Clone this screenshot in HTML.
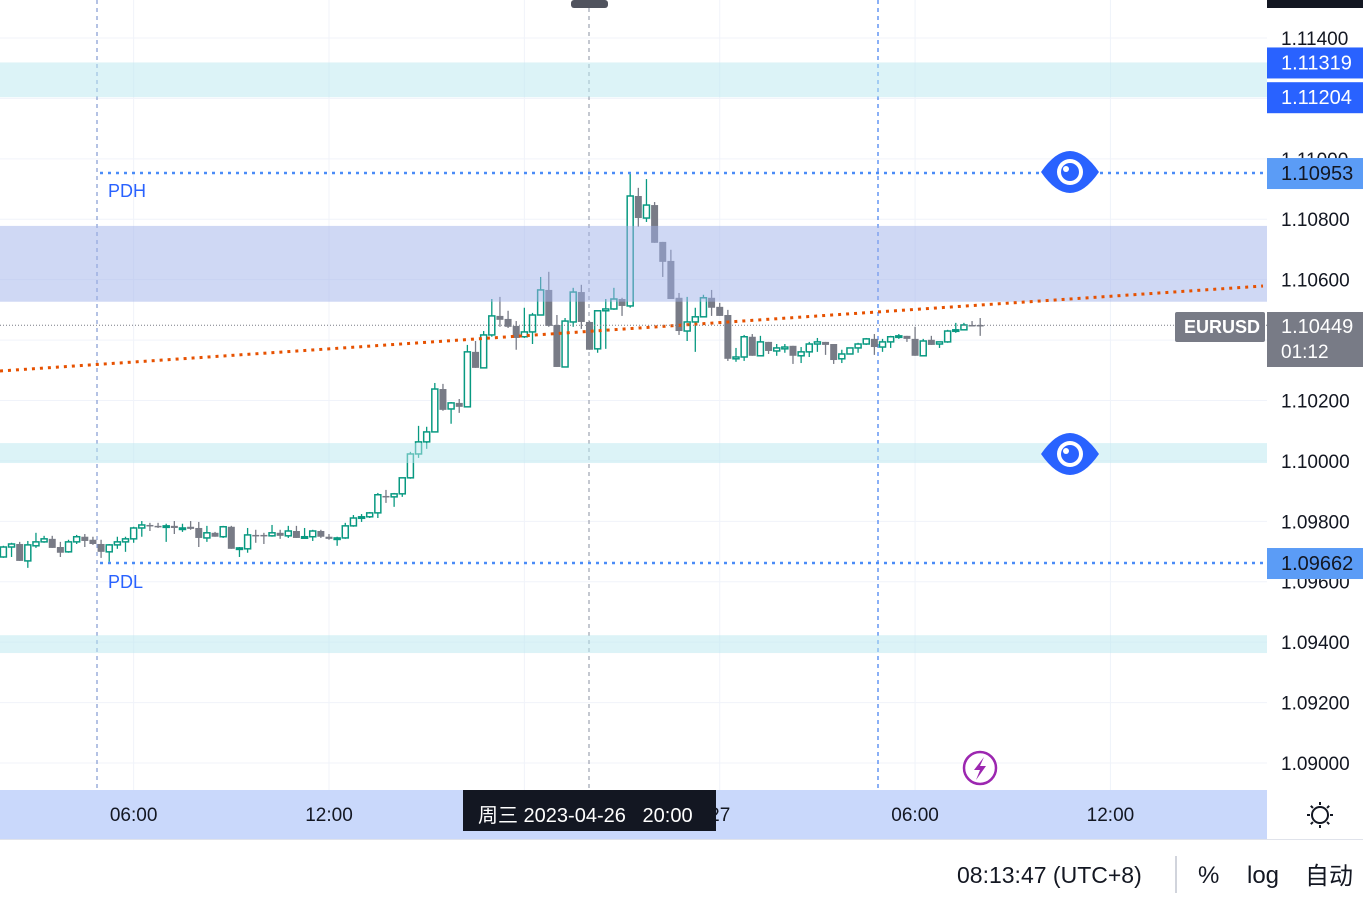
<!DOCTYPE html>
<html><head><meta charset="utf-8"><style>
html,body{margin:0;padding:0;background:#fff;width:1363px;height:900px;overflow:hidden;font-family:"Liberation Sans","Noto Sans CJK SC",sans-serif}
svg{position:absolute;left:0;top:0}
</style></head><body>
<svg id="chart" width="1363" height="900" xmlns="http://www.w3.org/2000/svg"></svg>
<script>
const opens=[1.09682,1.09715,1.09725,1.09669,1.09719,1.09732,1.09742,1.09715,1.09699,1.09732,1.09749,1.09739,1.09725,1.09699,1.09722,1.09732,1.09742,1.09778,1.09788,1.09785,1.09782,1.09785,1.09775,1.09782,1.09778,1.09745,1.09762,1.09749,1.09782,1.09709,1.09709,1.09755,1.09755,1.09752,1.09762,1.09752,1.09768,1.09745,1.09749,1.09768,1.09749,1.09742,1.09745,1.09785,1.09811,1.09815,1.09828,1.09884,1.09881,1.09891,1.09944,1.10023,1.10063,1.10096,1.10238,1.10172,1.10192,1.10179,1.10361,1.10308,1.10417,1.10480,1.10470,1.10447,1.10411,1.10427,1.10483,1.10566,1.10450,1.10311,1.10460,1.10559,1.10460,1.10371,1.10497,1.10503,1.10536,1.10513,1.10877,1.10804,1.10847,1.10725,1.10662,1.10540,1.10430,1.10460,1.10477,1.10540,1.10510,1.10483,1.10338,1.10344,1.10411,1.10348,1.10394,1.10364,1.10371,1.10381,1.10348,1.10361,1.10387,1.10394,1.10387,1.10338,1.10354,1.10374,1.10387,1.10404,1.10377,1.10394,1.10411,1.10414,1.10404,1.10348,1.10401,1.10387,1.10394,1.10430,1.10434,1.10450,1.10450];
const closes=[1.09715,1.09725,1.09669,1.09722,1.09732,1.09742,1.09712,1.09696,1.09732,1.09749,1.09735,1.09725,1.09699,1.09722,1.09732,1.09742,1.09778,1.09788,1.09785,1.09782,1.09785,1.09778,1.09778,1.09775,1.09745,1.09762,1.09749,1.09782,1.09709,1.09712,1.09755,1.09752,1.09752,1.09762,1.09752,1.09768,1.09745,1.09749,1.09768,1.09749,1.09742,1.09745,1.09785,1.09811,1.09815,1.09828,1.09888,1.09883,1.09891,1.09944,1.10023,1.10063,1.10096,1.10238,1.10169,1.10192,1.10179,1.10361,1.10308,1.10417,1.10480,1.10467,1.10444,1.10407,1.10427,1.10483,1.10566,1.10447,1.10311,1.10463,1.10559,1.10460,1.10368,1.10497,1.10503,1.10536,1.10513,1.10877,1.10804,1.10847,1.10722,1.10659,1.10536,1.10430,1.10460,1.10477,1.10540,1.10507,1.10480,1.10338,1.10344,1.10411,1.10348,1.10394,1.10364,1.10374,1.10377,1.10348,1.10361,1.10387,1.10394,1.10384,1.10334,1.10354,1.10374,1.10387,1.10404,1.10377,1.10394,1.10411,1.10414,1.10404,1.10348,1.10397,1.10384,1.10394,1.10430,1.10434,1.10450,1.10449,1.10447];
const highs=[1.09719,1.09729,1.09732,1.09735,1.09762,1.09752,1.09752,1.09732,1.09739,1.09755,1.09758,1.09749,1.09739,1.09725,1.09749,1.09749,1.09782,1.09801,1.09795,1.09795,1.09792,1.09801,1.09792,1.09801,1.09798,1.09785,1.09765,1.09785,1.09785,1.09715,1.09778,1.09772,1.09762,1.09788,1.09772,1.09785,1.09785,1.09778,1.09772,1.09772,1.09758,1.09749,1.09795,1.09821,1.09824,1.09831,1.09894,1.09904,1.09894,1.09944,1.10030,1.10116,1.10113,1.10258,1.10255,1.10195,1.10205,1.10384,1.10397,1.10430,1.10536,1.10543,1.10497,1.10463,1.10507,1.10490,1.10609,1.10626,1.10483,1.10473,1.10573,1.10583,1.10463,1.10497,1.10536,1.10573,1.10540,1.10953,1.10904,1.10933,1.10857,1.10725,1.10699,1.10556,1.10543,1.10507,1.10550,1.10566,1.10523,1.10500,1.10374,1.10417,1.10420,1.10414,1.10394,1.10387,1.10387,1.10381,1.10377,1.10394,1.10407,1.10394,1.10387,1.10368,1.10374,1.10391,1.10407,1.10420,1.10404,1.10414,1.10420,1.10414,1.10444,1.10404,1.10414,1.10394,1.10434,1.10457,1.10457,1.10463,1.10473];
const lows=[1.09679,1.09682,1.09669,1.09646,1.09712,1.09729,1.09712,1.09682,1.09696,1.09725,1.09715,1.09722,1.09679,1.09666,1.09709,1.09699,1.09729,1.09749,1.09768,1.09778,1.09732,1.09758,1.09765,1.09772,1.09715,1.09732,1.09749,1.09745,1.09709,1.09682,1.09696,1.09729,1.09725,1.09749,1.09742,1.09745,1.09745,1.09745,1.09735,1.09745,1.09739,1.09719,1.09742,1.09782,1.09798,1.09811,1.09811,1.09861,1.09848,1.09881,1.09941,1.10010,1.10040,1.10096,1.10166,1.10123,1.10159,1.10179,1.10308,1.10308,1.10411,1.10444,1.10440,1.10368,1.10407,1.10387,1.10483,1.10444,1.10311,1.10311,1.10444,1.10437,1.10368,1.10358,1.10371,1.10500,1.10480,1.10507,1.10775,1.10791,1.10722,1.10609,1.10536,1.10417,1.10397,1.10361,1.10477,1.10480,1.10480,1.10331,1.10328,1.10331,1.10348,1.10348,1.10354,1.10348,1.10358,1.10321,1.10324,1.10344,1.10361,1.10351,1.10321,1.10324,1.10354,1.10358,1.10384,1.10351,1.10361,1.10374,1.10404,1.10394,1.10348,1.10348,1.10384,1.10374,1.10391,1.10424,1.10434,1.10447,1.10414];
const priceTicks=[1.114,1.110,1.108,1.106,1.102,1.100,1.098,1.096,1.094,1.092,1.090];
const timeTicks=["06:00","12:00","27","06:00","12:00"];
const timeTickMinutes=[240,600,1320,1680,2040];
const gridMinutes=[240,600,960,1320,1680,2040];
const barMinutes=15;

const svg=document.getElementById('chart');
const NS='http://www.w3.org/2000/svg';
function y(p){return 38+(1.114-p)*30208;}
function x(i){return 3.4+8.14*i;}
function xm(m){return 3.4+8.14*(m/barMinutes);}
function el(tag,attrs,parent){const e=document.createElementNS(NS,tag);for(const k in attrs)e.setAttribute(k,attrs[k]);(parent||svg).appendChild(e);return e;}
function txt(s,attrs,parent){const e=el('text',attrs,parent);e.textContent=s;return e;}

const grid=el('g',{});


for(let k=0;k<13;k++){const p=1.114-0.002*k;el('line',{x1:0,x2:1267,y1:y(p),y2:y(p),stroke:'#f0f3fa','stroke-width':1},grid);}
for(const m of gridMinutes){el('line',{x1:xm(m),x2:xm(m),y1:0,y2:790,stroke:'#f0f3fa','stroke-width':1},grid);}

const v1=el('line',{x1:97,x2:97,y1:0,y2:790,stroke:'#6a86c8','stroke-dasharray':'4 4','stroke-width':1});


const v2=el('line',{x1:589,x2:589,y1:0,y2:790,stroke:'#8a90a0','stroke-dasharray':'4 4','stroke-width':1});


const v3=el('line',{x1:878,x2:878,y1:0,y2:790,stroke:'#3d7bf0','stroke-dasharray':'4 4','stroke-width':1.2});



const cg=el('g',{});


for(let i=0;i<opens.length;i++){
  const up=closes[i]>=opens[i];
  const col=up?'#089981':'#787b86';
  const g=el('g',{},cg);
  
  
  const cx=x(i);
  el('line',{x1:cx,x2:cx,y1:y(highs[i]),y2:y(lows[i]),stroke:col,'stroke-width':1.3},g);
  const top=y(Math.max(opens[i],closes[i])),bot=y(Math.min(opens[i],closes[i]));
  const h=Math.max(1.5,bot-top);
  if(up) el('rect',{x:cx-3,y:top,width:6,height:h,fill:'#fff',stroke:col,'stroke-width':1.5},g);
  else el('rect',{x:cx-3.5,y:top,width:7,height:h,fill:col},g);
}

function zone(p1,p2,fill,op,name){const r=el('rect',{x:0,y:y(p1),width:1267,height:y(p2)-y(p1),fill:fill,opacity:op});

}
zone(1.11319,1.11204,'#b9e8ef',0.5,'resistance-zone-top');
zone(1.10778,1.10527,'#9fb2ea',0.5,'supply-zone');
zone(1.10059,1.09993,'#b9e8ef',0.5,'support-zone-1');
zone(1.09423,1.09364,'#b9e8ef',0.5,'support-zone-2');

const pdh=el('line',{x1:100,x2:1267,y1:y(1.10953),y2:y(1.10953),stroke:'#4a8cf7','stroke-width':2.5,'stroke-dasharray':'3 5'});


const pdl=el('line',{x1:100,x2:1267,y1:y(1.09662),y2:y(1.09662),stroke:'#4a8cf7','stroke-width':2.5,'stroke-dasharray':'3 5'});


const pdht=txt('PDH',{x:108,y:197,fill:'#2962ff','font-size':18});


const pdlt=txt('PDL',{x:108,y:588,fill:'#2962ff','font-size':18});



const tl=el('line',{x1:0,y1:371,x2:1263,y2:286,stroke:'#e65100','stroke-width':3,'stroke-dasharray':'3 5'});



const lp=el('line',{x1:0,x2:1267,y1:y(1.10449),y2:y(1.10449),stroke:'#787b86','stroke-width':1,'stroke-dasharray':'1 2'});



function eye(cy,name){const g=el('g',{});


el('path',{d:`M1041 ${cy} Q1070 ${cy-42} 1099 ${cy} Q1070 ${cy+42} 1041 ${cy} Z`,fill:'#2962ff'},g);
el('circle',{cx:1070,cy:cy,r:13,fill:'#fff'},g);
el('circle',{cx:1070,cy:cy,r:9,fill:'#2962ff'},g);
el('circle',{cx:1066,cy:cy-3,r:3,fill:'#fff'},g);}
eye(172,'eye-icon-pdh');
eye(454,'eye-icon-support');

const lg=el('g',{});


el('circle',{cx:980,cy:768,r:16,fill:'#fff',stroke:'#9c27b0','stroke-width':2.5},lg);
el('path',{d:'M984 757 L974 770 L980 770 L976 780 L986 766 L980 766 Z',fill:'#9c27b0'},lg);

const pa=el('g',{});


el('rect',{x:1267,y:0,width:96,height:790,fill:'#fff'},pa);
el('rect',{x:1267,y:0,width:96,height:8,fill:'#131722'},pa);
for(const p of priceTicks){const t=txt(p.toFixed(5),{x:1281,y:y(p)+7,fill:'#131722','font-size':19},pa);

}
function tag(p,bg,fg,name){const g=el('g',{},pa);


el('rect',{x:1267,y:y(p)-15,width:96,height:31,fill:bg},g);
txt(p.toFixed(5),{x:1281,y:y(p)+7,fill:fg,'font-size':20},g);}
tag(1.11319,'#2962ff','#fff','zone-top-price-tag');
tag(1.11204,'#2962ff','#fff','zone-bottom-price-tag');
tag(1.10953,'#5b9cf6','#131722','pdh-price-tag');
tag(1.09662,'#5b9cf6','#131722','pdl-price-tag');
const lt=el('g',{},pa);


el('rect',{x:1267,y:312,width:96,height:55,fill:'#787b86'},lt);
txt('1.10449',{x:1281,y:333,fill:'#fff','font-size':20},lt);
txt('01:12',{x:1281,y:358,fill:'#fff','font-size':19},lt);
const sym=el('g',{});


el('rect',{x:1175,y:312,width:90,height:30,fill:'#787b86',rx:2},sym);
txt('EURUSD',{x:1184,y:333,fill:'#fff','font-size':18,'font-weight':'bold'},sym);

const tt=el('rect',{x:571,y:0,width:37,height:8,fill:'#50535e',rx:3});



const ta=el('g',{});


el('rect',{x:0,y:790,width:1267,height:49,fill:'#c9d8fb'},ta);
el('line',{x1:0,x2:1363,y1:839.5,y2:839.5,stroke:'#e0e3eb'},ta);
for(let k=0;k<timeTicks.length;k++){const t=txt(timeTicks[k],{x:xm(timeTickMinutes[k]),y:821,fill:'#131722','font-size':19,'text-anchor':'middle'},ta);

}
const tip=el('g',{});


el('rect',{x:463,y:790,width:253,height:41,fill:'#131722'},tip);
const tipt=txt('周三 2023-04-26   20:00',{x:478,y:822,fill:'#fff','font-size':20},tip);
tipt.setAttribute('style','white-space:pre');
const gear=el('g',{});


el('circle',{cx:1320,cy:815,r:8,fill:'none',stroke:'#131722','stroke-width':2},gear);
for(let a=0;a<8;a++){const an=a*Math.PI/4;el('line',{x1:1320+10*Math.cos(an),y1:815+10*Math.sin(an),x2:1320+13*Math.cos(an),y2:815+13*Math.sin(an),stroke:'#131722','stroke-width':2},gear);}

const bb=el('g',{});


const clk=txt('08:13:47 (UTC+8)',{x:957,y:883,fill:'#131722','font-size':23},bb);


el('line',{x1:1176,x2:1176,y1:856,y2:893,stroke:'#d1d4dc','stroke-width':2},bb);
const pc=txt('%',{x:1198,y:883,fill:'#131722','font-size':24},bb);


const lgb=txt('log',{x:1247,y:883,fill:'#131722','font-size':24},bb);


const au=txt('自动',{x:1305,y:884,fill:'#131722','font-size':24},bb);


</script>
</body></html>
